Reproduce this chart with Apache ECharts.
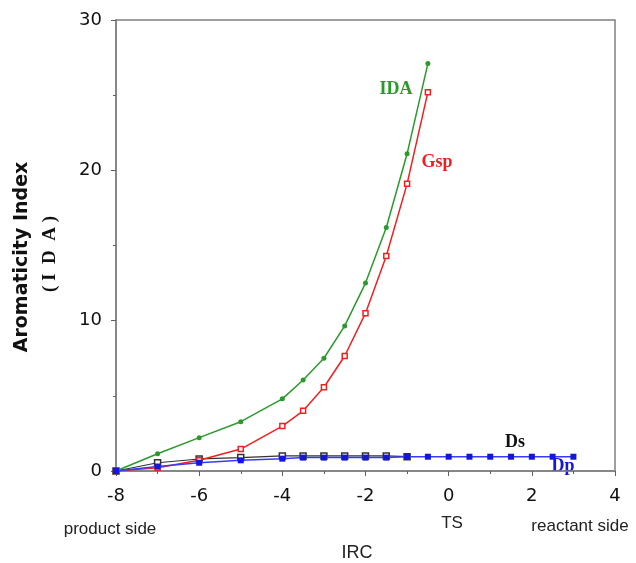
<!DOCTYPE html>
<html>
<head>
<meta charset="utf-8">
<script src="https://cdn.jsdelivr.net/npm/echarts@6/dist/echarts.min.js"></script>
<style>
  html, body { margin: 0; padding: 0; background: #fff; }
  #chart { width: 636px; height: 563px; }
</style>
</head>
<body>
<div id="chart"></div>
<script>
// IRC positions
var ircIDA = [-8, -7, -6, -5, -4, -3.5, -3, -2.5, -2, -1.5, -1, -0.5];
var valIDA = [0, 1.15, 2.22, 3.28, 4.8, 6.05, 7.5, 9.65, 12.5, 16.2, 21.1, 27.1];
var valGsp = [0, 0.22, 0.71, 1.46, 2.99, 4.0, 5.57, 7.65, 10.5, 14.3, 19.1, 25.2];
var ircDs = [-8, -7, -6, -5, -4, -3.5, -3, -2.5, -2, -1.5, -1];
var valDs = [0, 0.55, 0.8, 0.89, 1.0, 1.0, 1.0, 1.0, 1.0, 1.0, 0.95];
var ircDp = [-8, -7, -6, -5, -4, -3.5, -3, -2.5, -2, -1.5, -1, -0.5, 0, 0.5, 1, 1.5, 2, 2.5, 3];
var valDp = [0, 0.3, 0.55, 0.71, 0.82, 0.89, 0.89, 0.89, 0.89, 0.89, 0.95, 0.95, 0.95, 0.95, 0.95, 0.95, 0.95, 0.95, 0.95];

function pairs(xs, ys) {
  return xs.map(function (x, i) { return [x, ys[i]]; });
}

function txt(x, y, s, color, font, rot) {
  return {
    type: 'text', x: x, y: y, rotation: rot || 0,
    style: { text: s, fill: color, font: font, align: 'center', verticalAlign: 'middle' }
  };
}

var chart = echarts.init(document.getElementById('chart'));
var option = {
  animation: false,
  grid: {
    left: 116, top: 20, right: 21, bottom: 92,
    show: true, borderColor: '#808080', borderWidth: 1.5
  },
  xAxis: {
    type: 'value', min: -8, max: 4, interval: 2,
    axisLine: { onZero: false, lineStyle: { color: '#808080', width: 1.5 } },
    axisTick: { show: true, length: 5, lineStyle: { color: '#606060' } },
    minorTick: { show: true, splitNumber: 2, length: 3, lineStyle: { color: '#606060' } },
    splitLine: { show: false },
    axisLabel: { color: '#111', fontSize: 18, fontFamily: 'DejaVu Sans', margin: 16 }
  },
  yAxis: {
    type: 'value', min: 0, max: 30, interval: 10,
    axisLine: { onZero: false, lineStyle: { color: '#808080', width: 1.5 } },
    axisTick: { show: true, length: 5, lineStyle: { color: '#606060' } },
    minorTick: { show: true, splitNumber: 2, length: 3, lineStyle: { color: '#606060' } },
    splitLine: { show: false },
    axisLabel: { color: '#111', fontSize: 18, fontFamily: 'DejaVu Sans', margin: 14 }
  },
  series: [
    {
      name: 'IDA', type: 'line', data: pairs(ircIDA, valIDA),
      itemStyle: { color: '#2a9a2a' },
      lineStyle: { color: '#2a9a2a', width: 1.5 },
      symbol: 'circle', symbolSize: 5, z: 3
    },
    {
      name: 'Gsp', type: 'line', data: pairs(ircIDA, valGsp),
      itemStyle: { color: '#fff', borderColor: '#f02020', borderWidth: 1.5 },
      lineStyle: { color: '#f02020', width: 1.5 },
      symbol: 'rect', symbolSize: 5, z: 3
    },
    {
      name: 'Ds', type: 'line', data: pairs(ircDs, valDs),
      itemStyle: { color: '#fff', borderColor: '#333', borderWidth: 1.5 },
      lineStyle: { color: '#333', width: 1.2 },
      symbol: 'rect', symbolSize: 6, z: 2
    },
    {
      name: 'Dp', type: 'line', data: pairs(ircDp, valDp),
      itemStyle: { color: '#1515e0' },
      lineStyle: { color: '#3a3aff', width: 1.5 },
      symbol: 'rect', symbolSize: 6, z: 4
    }
  ],
  graphic: [
    txt(396, 89, 'IDA', '#2a9a2a', 'bold 18px "Liberation Serif"'),
    txt(437, 162, 'Gsp', '#f02020', 'bold 18px "Liberation Serif"'),
    txt(515, 442, 'Ds', '#111', 'bold 18px "Liberation Serif"'),
    txt(563, 466, 'Dp', '#1515e0', 'bold 18px "Liberation Serif"'),
    txt(110, 529, 'product side', '#222', '17px "Liberation Sans"'),
    txt(452, 523, 'TS', '#222', '17px "Liberation Sans"'),
    txt(580, 526, 'reactant side', '#222', '17px "Liberation Sans"'),
    txt(357, 553, 'IRC', '#222', '18px "Liberation Sans"'),
    txt(22, 257, 'Aromaticity Index', '#111', 'bold 19px "DejaVu Sans"', Math.PI / 2),
    txt(50, 254, '( I  D  A )', '#111', 'bold 19px "Liberation Serif"', Math.PI / 2)
  ]
};
chart.setOption(option);
</script>
</body>
</html>
